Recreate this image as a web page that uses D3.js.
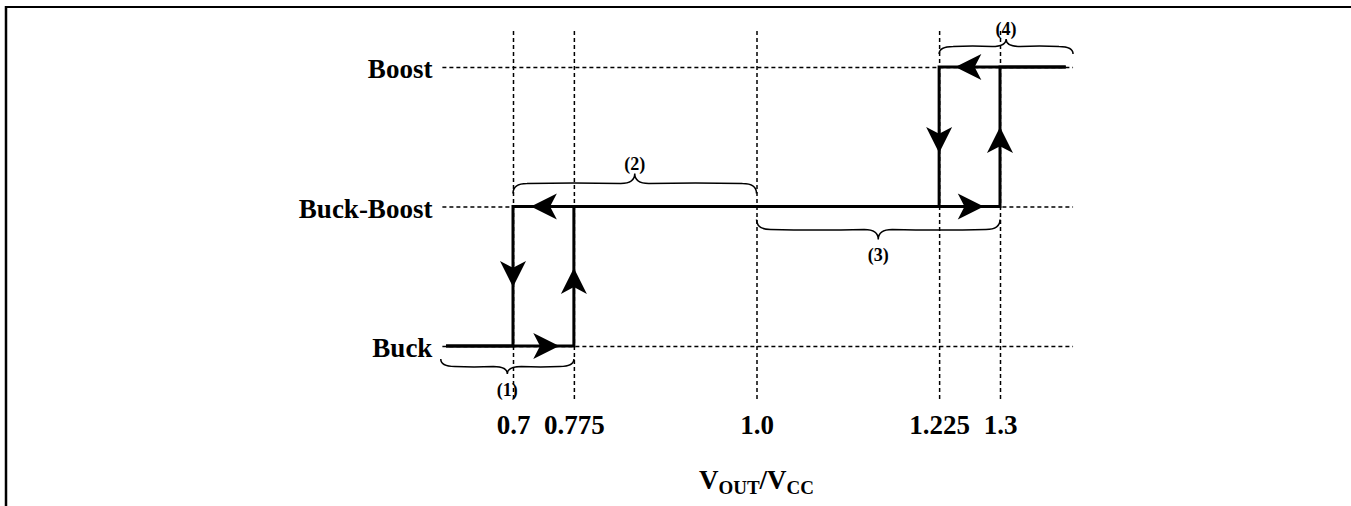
<!DOCTYPE html>
<html>
<head>
<meta charset="utf-8">
<script src="https://cdn.jsdelivr.net/npm/d3@7/dist/d3.min.js"></script>
<style>
  html, body { margin: 0; padding: 0; background: #fff; }
  svg { display: block; }
  text { font-family: "Liberation Serif", "Times New Roman", serif; font-weight: bold; fill: #000; }
</style>
</head>
<body>
<svg id="chart" width="1351" height="506"></svg>
<script>
// ---------- data ----------
const modes = ["Buck", "Buck-Boost", "Boost"];          // operating modes (levels 0,1,2)
const thresholds = [0.7, 0.775, 1.0, 1.225, 1.3];        // VOUT/VCC thresholds
const tickLabels = ["0.7", "0.775", "1.0", "1.225", "1.3"];
// rising VOUT/VCC path: [ratio, mode level]
const risingPath = [[0.6175, 0], [0.775, 0], [0.775, 1], [1.3, 1], [1.3, 2], [1.381, 2]];
// falling VOUT/VCC path
const fallingPath = [[1.381, 2], [1.225, 2], [1.225, 1], [0.7, 1], [0.7, 0], [0.6175, 0]];
// direction arrows: ratio, level of arrow tip, direction
const arrowVals = [0.757, 0.775, 1.28, 1.3, 1.245, 1.225, 0.722, 0.7];
const arrowLevels = [0, 0.56, 1, 1.57, 2, 1.384, 1, 0.423];
const arrowDirs = ["right", "up", "right", "up", "left", "down", "left", "down"];
// region braces
const braceLabels = ["(1)", "(2)", "(3)", "(4)"];
const braceFrom = [0.611, 0.7, 1.0, 1.225];
const braceTo = [0.775, 1.0, 1.3, 1.39];
const braceLevel = [0, 1, 1, 2];
const braceSide = ["below", "above", "below", "above"];

// ---------- layout ----------
const svg = d3.select("#chart");
const x = d3.scaleLinear().domain([0.7, 1.3]).range([513, 1000]);
const yPt = d3.scalePoint().domain(modes).range([346, 67]);
const yLv = d3.scaleLinear().domain([0, modes.length - 1]).range([346, 67]);

const gridTop = 28, gridBottom = 399;
const gridLeft = x(0.613), gridRight = x(1.39);
const FONT = "'Liberation Serif', 'Times New Roman', serif";

// frame (top and left rules)
svg.append("line").attr("x1", 5).attr("x2", 1351).attr("y1", 7).attr("y2", 7)
  .attr("stroke", "#000").attr("stroke-width", 2);
svg.append("line").attr("x1", 6).attr("x2", 6).attr("y1", 6).attr("y2", 506)
  .attr("stroke", "#000").attr("stroke-width", 2.5);

// x axis: vertical dotted lines + labels
const xAxis = d3.axisBottom(x)
  .tickValues(thresholds)
  .tickFormat((d, i) => tickLabels[i])
  .tickSizeInner(-(gridBottom - gridTop))
  .tickSizeOuter(0);
const gx = svg.append("g").attr("transform", `translate(0,${gridBottom})`).call(xAxis);
gx.select(".domain").remove();
gx.selectAll(".tick line").attr("stroke", "#000").attr("stroke-width", 1.5).attr("stroke-dasharray", "4,3");
gx.selectAll(".tick text").attr("y", 35).attr("dy", 0)
  .style("font-size", "27px").style("font-family", FONT)
  .style("font-weight", "bold").attr("fill", "#000");

// y axis: horizontal dotted lines + mode labels
const yAxis = d3.axisLeft(yPt)
  .tickSizeInner(-(gridRight - gridLeft))
  .tickSizeOuter(0)
  .tickPadding(10);
const gy = svg.append("g").attr("transform", `translate(${gridLeft},0)`).call(yAxis);
gy.select(".domain").remove();
gy.selectAll(".tick line").attr("stroke", "#000").attr("stroke-width", 1.5).attr("stroke-dasharray", "4,3");
gy.selectAll(".tick text").attr("dy", "0.4em")
  .style("font-size", "27px").style("font-family", FONT)
  .style("font-weight", "bold").attr("fill", "#000");

// transfer paths
const line = d3.line().x(d => x(d[0])).y(d => yLv(d[1]));
[risingPath, fallingPath].forEach(p => {
  svg.append("path").attr("d", line(p)).attr("fill", "none")
    .attr("stroke", "#000").attr("stroke-width", 3).attr("stroke-linejoin", "miter");
});

// arrowheads
const AL = 26, AW = 26;
const rot = { right: 0, down: 90, left: 180, up: 270 };
svg.append("g").selectAll("path").data(arrowVals.map((v, i) => ({ v, lv: arrowLevels[i], dir: arrowDirs[i] })))
  .join("path")
  .attr("d", `M0,0 L${-AL},${-AW / 2} L${-AL * 0.74},0 L${-AL},${AW / 2} Z`)
  .attr("transform", d => `translate(${x(d.v)},${yLv(d.lv)}) rotate(${rot[d.dir]})`)
  .attr("fill", "#000");

// braces
function bracePath(x0, x1, yEnd, dir, depth) {
  const xm = (x0 + x1) / 2;
  const yb = yEnd + dir * depth * 0.5;
  const yt = yEnd + dir * depth;
  const r = Math.min(14, (x1 - x0) / 8);
  return `M${x0},${yEnd} Q${x0},${yb} ${x0 + r},${yb} ` +
    `Q${(x0 + xm) / 2},${yb + dir * depth * 0.06} ${xm - r},${yb} ` +
    `Q${xm},${yb} ${xm},${yt} ` +
    `Q${xm},${yb} ${xm + r},${yb} ` +
    `Q${(xm + x1) / 2},${yb + dir * depth * 0.06} ${x1 - r},${yb} ` +
    `Q${x1},${yb} ${x1},${yEnd}`;
}
const braces = braceLabels.map((lab, i) => ({ lab, v0: braceFrom[i], v1: braceTo[i], lv: braceLevel[i], side: braceSide[i] }));
const gb = svg.append("g");
braces.forEach(b => {
  const dir = b.side === "below" ? 1 : -1;
  const x0 = x(b.v0), x1 = x(b.v1);
  const yl = yLv(b.lv);
  const yEnd = yl + dir * 13;
  const depth = 9 + 0.045 * (x1 - x0);
  gb.append("path").attr("d", bracePath(x0, x1, yEnd, dir, depth))
    .attr("fill", "none").attr("stroke", "#000").attr("stroke-width", 1.5);
  const tipY = yEnd + dir * depth;
  gb.append("text").attr("x", (x0 + x1) / 2)
    .attr("y", dir > 0 ? tipY + 22 : tipY - 4)
    .attr("text-anchor", "middle").style("font-size", "18px").text(b.lab);
});

// axis title V_OUT / V_CC
const title = svg.append("text").attr("x", x(1.0)).attr("y", 489)
  .attr("text-anchor", "middle").style("font-size", "27px");
title.append("tspan").text("V");
title.append("tspan").attr("dy", 5).style("font-size", "19px").text("OUT");
title.append("tspan").attr("dy", -5).text("/V");
title.append("tspan").attr("dy", 5).style("font-size", "19px").text("CC");
</script>
</body>
</html>
